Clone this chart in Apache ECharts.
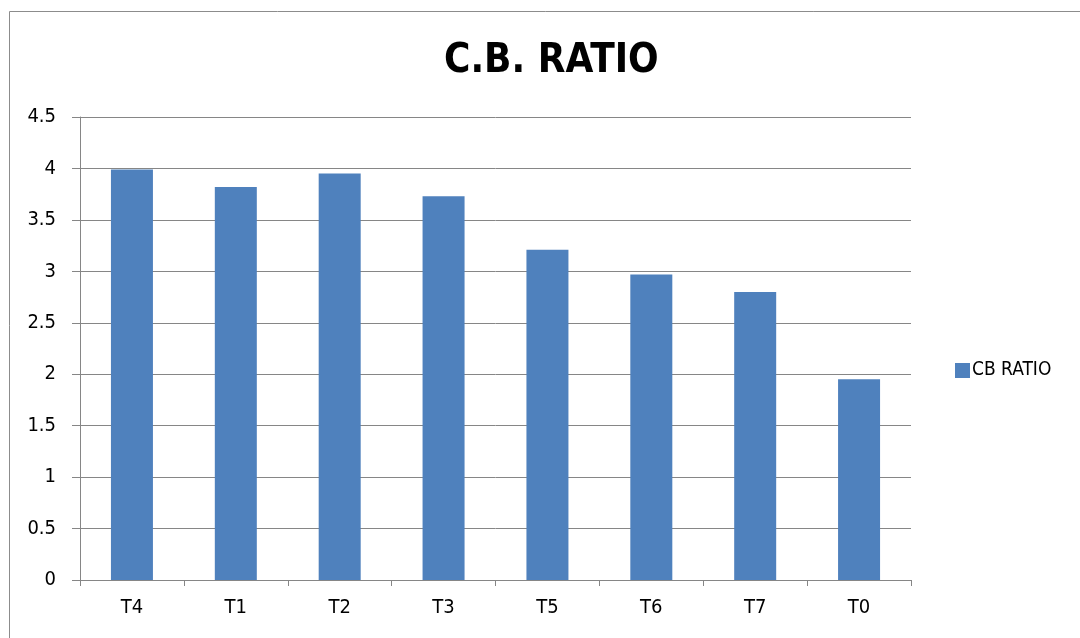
<!DOCTYPE html>
<html style="height: 100%">
<head>
    <meta charset="utf-8">
</head>
<body style="height: 100%; margin: 0; background: #fff">
    <div id="main" style="width: 1080px; height: 638px"></div>
    <script src="https://cdn.jsdelivr.net/npm/echarts@6/dist/echarts.min.js"></script>
    <script type="text/javascript">
        var categories = ['T4', 'T1', 'T2', 'T3', 'T5', 'T6', 'T7', 'T0'];
        var cbRatio = [3.99, 3.82, 3.95, 3.73, 3.21, 2.97, 2.80, 1.95];
        var seriesName = 'CB RATIO';

        var font = "'DejaVu Sans Condensed', 'Liberation Sans', sans-serif";
        var axisGray = '#868686';

        var myChart = echarts.init(document.getElementById('main'));

        myChart.setOption({
            animation: false,
            title: {
                text: 'C.B. RATIO',
                left: 439,
                top: 37,
                textStyle: {
                    fontFamily: font,
                    fontSize: 40,
                    fontWeight: 'bold',
                    color: '#000'
                }
            },
            legend: {
                data: [seriesName],
                orient: 'vertical',
                left: 950,
                top: 356,
                icon: 'rect',
                itemWidth: 15,
                itemHeight: 15,
                itemGap: 2,
                textStyle: { fontFamily: font, fontSize: 19, color: '#000', padding: [0, 0, 0, -3] }
            },
            grid: {
                left: 80,
                right: 169,
                top: 117,
                bottom: 58
            },
            xAxis: {
                type: 'category',
                data: categories,
                axisLine: { lineStyle: { color: axisGray, width: 1 } },
                axisTick: { show: true, length: 6, lineStyle: { color: axisGray } },
                axisLabel: { fontFamily: font, fontSize: 20, color: '#000', margin: 18 }
            },
            yAxis: {
                type: 'value',
                min: 0,
                max: 4.5,
                interval: 0.5,
                axisLine: { show: true, lineStyle: { color: axisGray } },
                axisTick: { show: true, length: 8, lineStyle: { color: axisGray } },
                axisLabel: { fontFamily: font, fontSize: 20, color: '#000', margin: 24 },
                splitLine: { lineStyle: { color: axisGray, width: 1 } }
            },
            graphic: [{
                type: 'rect',
                shape: { x: 9.5, y: 11.5, width: 1200, height: 800 },
                style: { fill: 'none', stroke: '#8c8c8c', lineWidth: 1 },
                silent: true
            }],
            series: [{
                name: seriesName,
                type: 'bar',
                data: cbRatio,
                barWidth: 42,
                itemStyle: { color: '#4f81bd' }
            }]
        });
    </script>
</body>
</html>
